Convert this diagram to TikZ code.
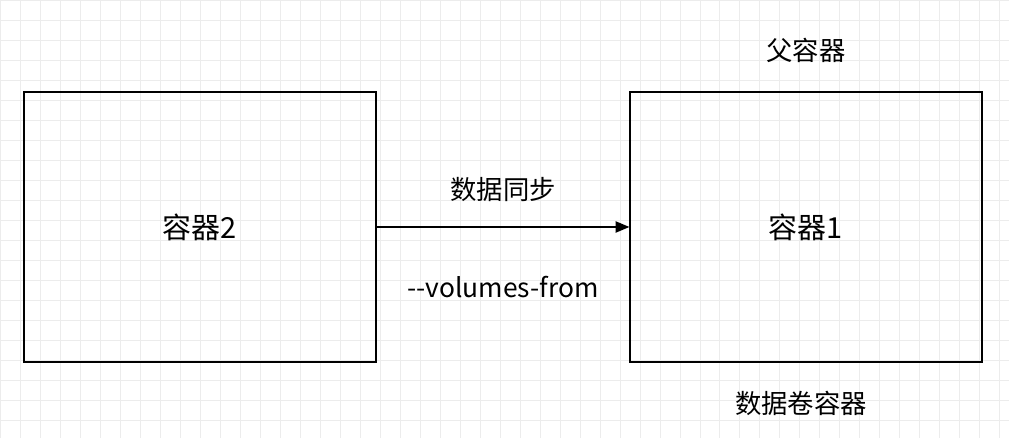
\documentclass[tikz,border=0pt]{standalone}
\usepackage{fontspec}
\setmainfont{Noto Sans CJK SC}
\usetikzlibrary{arrows,positioning}

\begin{document}
\begin{tikzpicture}[
        x=0.02cm, y=-0.02cm,
        every node/.style={font=\fontsize{16.5pt}{19pt}\selectfont},
        box/.style={draw, thick, minimum width=7.04cm, minimum height=5.4cm},
        label/.style={font=\fontsize{15pt}{18pt}\selectfont}
    ]
    \useasboundingbox (0,0) rectangle (1009,438);
    \draw[gray!15, step=0.4cm] (0,0) grid (1009,438);

    % Nodes
    \node[box] (c2) at (200,227) {容器2};
    \node[box] (c1) at (806,227) {容器1};
    \node[label] (parent) [above=0.45cm of c1] {父容器};
    \node[label] (vol) [below=0.45cm of c1, xshift=-0.1cm] {数据卷容器};
    \node[label] (sync) at (503,190) {数据同步};
    \node[label] (from) at (503,287) {-{}-volumes-from};

    % Edges
    \draw[-triangle 45, thick] (c2) -- (c1);
\end{tikzpicture}
\end{document}
